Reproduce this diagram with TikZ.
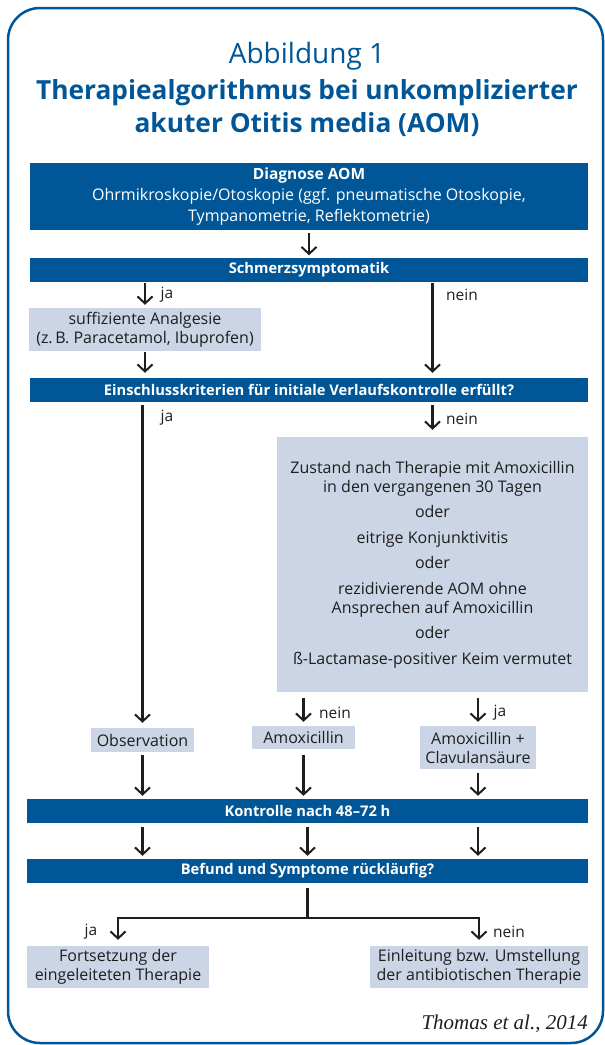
\documentclass[tikz,border=0pt]{standalone}
\usepackage{fontspec}
\setmainfont{Open Sans}
\newfontfamily\citefont{Liberation Serif}
\usetikzlibrary{arrows.meta,calc}
\definecolor{aomblue}{RGB}{0,86,150}
\definecolor{aomlight}{RGB}{204,213,230}
\definecolor{aomtext}{RGB}{30,30,30}
\begin{document}
\begin{tikzpicture}[x=1pt,y=-1pt,
 bar/.style={fill=aomblue,text=white,font=\fontsize{14.7}{20}\selectfont\bfseries,inner sep=0pt,align=center},
 lbox/.style={fill=aomlight,text=aomtext,font=\fontsize{16}{19}\selectfont,inner sep=0pt,align=center},
 arr/.style={draw=aomtext,line width=2.1pt,-{Straight Barb[length=7pt,width=15pt,line width=2pt]}},
 lab/.style={text=aomtext,font=\fontsize{15.5}{17}\selectfont,inner sep=0pt},
 ttl/.style={text=aomblue,anchor=base,inner sep=0pt}]
\useasboundingbox (0,0) rectangle (605,1045);
\draw[aomblue, line width=2.5pt, rounded corners=32pt] (8,8) rectangle (603,1043);
% title
\node[ttl, font=\fontsize{28}{30}\selectfont] (t1) at (307,63) {Abbildung 1};
\node[ttl, font=\fontsize{26.3}{30}\selectfont\bfseries] (t2) at (307,99) {Therapiealgorithmus bei unkomplizierter};
\node[ttl, font=\fontsize{26.3}{30}\selectfont\bfseries] (t3) at (307,132) {akuter Otitis media (AOM)};
% boxes
\node[bar, font=\fontsize{15.5}{21}\selectfont\bfseries, minimum width=558pt, minimum height=67pt] (diag) at (309,196.5)
  {Diagnose AOM\\ {\mdseries\fontsize{16}{21}\selectfont Ohrmikroskopie/Otoskopie (ggf. pneumatische Otoskopie,}\\ {\mdseries\fontsize{16}{21}\selectfont Tympanometrie, Reflektometrie)}};
\node[bar, minimum width=558pt, minimum height=24pt] (schmerz) at (309,269.5) {Schmerzsymptomatik};
\node[lbox, minimum width=232pt, minimum height=43pt] (analg) at (145,329.5) {suffiziente Analgesie\\(z.\,B. Paracetamol, Ibuprofen)};
\node[bar, minimum width=558pt, minimum height=24pt] (einschl) at (309,390) {Einschlusskriterien für initiale Verlaufskontrolle erfüllt?};
\node[lbox, minimum width=311pt, minimum height=255pt] (crit) at (432.5,564.5)
  {Zustand nach Therapie mit Amoxicillin\\in den vergangenen 30 Tagen\\[6.5pt]
   oder\\[6.5pt]eitrige Konjunktivitis\\[6.5pt]oder\\[6.5pt]
   rezidivierende AOM ohne\\Ansprechen auf Amoxicillin\\[6.5pt]oder\\[6.5pt]
   ß-Lactamase-positiver Keim vermutet};
\node[lbox, minimum width=103pt, minimum height=24pt] (obs) at (142.5,740) {Observation};
\node[lbox, minimum width=103pt, minimum height=23pt] (amox) at (303.5,737.5) {Amoxicillin};
\node[lbox, minimum width=116pt, minimum height=43pt] (clav) at (478,747.5) {Amoxicillin +\\Clavulansäure};
\node[bar, minimum width=561pt, minimum height=24pt] (kontr) at (307.5,811) {Kontrolle nach 48--72 h};
\node[bar, minimum width=561pt, minimum height=24pt] (befund) at (307.5,871) {Befund und Symptome rückläufig?};
\node[lbox, minimum width=182pt, minimum height=42pt] (fort) at (118,967) {Fortsetzung der\\eingeleiteten Therapie};
\node[lbox, minimum width=218pt, minimum height=42pt] (einl) at (479,967) {Einleitung bzw. Umstellung\\der antibiotischen Therapie};
\node[anchor=base east, inner sep=0pt, font=\citefont\itshape\fontsize{21}{22}\selectfont, text=aomtext] (cite) at (588,1029) {Thomas et al., 2014};
% arrows
\draw[arr, shorten <=3pt, shorten >=2pt] (diag.south) -- (schmerz.north);
\draw[arr, shorten <=1pt, shorten >=3pt] (schmerz.south -| analg.north) -- (analg.north);
\draw[arr, shorten <=1pt, shorten >=5pt] (schmerz.south -| crit.north) -- (einschl.north -| crit.north);
\draw[arr, shorten <=1pt, shorten >=5pt] (analg.south) -- (einschl.north -| analg.south);
\draw[arr, shorten <=3pt, shorten >=5pt] (einschl.south -| obs.north) -- (obs.north);
\draw[arr, shorten <=3pt, shorten >=7pt] (einschl.south -| crit.north) -- (crit.north);
\draw[arr, shorten <=6pt, shorten >=4pt] (crit.south -| amox.north) -- (amox.north);
\draw[arr, shorten <=6pt, shorten >=4pt] (crit.south -| clav.north) -- (clav.north);
\draw[arr, shorten <=3pt, shorten >=3pt] (obs.south) -- (kontr.north -| obs.south);
\draw[arr, shorten <=6pt, shorten >=3pt] (amox.south) -- (kontr.north -| amox.south);
\draw[arr, shorten <=4pt, shorten >=3pt] (clav.south) -- (kontr.north -| clav.south);
\draw[arr, shorten <=4pt, shorten >=3pt] (kontr.south -| obs.south) -- (befund.north -| obs.south);
\draw[arr, shorten <=4pt, shorten >=3pt] (kontr.south) -- (befund.north);
\draw[arr, shorten <=4pt, shorten >=3pt] (kontr.south -| clav.south) -- (befund.north -| clav.south);
\draw[arr, shorten <=5pt, shorten >=6pt] (befund.south) -- ++(0,35) -| (fort.north);
\draw[arr, shorten <=5pt, shorten >=6pt] (befund.south) -- ++(0,35) -| (einl.north);
% labels
\node[lab] (l1) at (167,295) {ja};
\node[lab] (l2) at (462,295) {nein};
\node[lab] (l3) at (167,418) {ja};
\node[lab] (l4) at (462,419) {nein};
\node[lab] (l5) at (335,713) {nein};
\node[lab] (l6) at (500,713) {ja};
\node[lab] (l7) at (91,932) {ja};
\node[lab] (l8) at (509,932) {nein};
\end{tikzpicture}
\end{document}
